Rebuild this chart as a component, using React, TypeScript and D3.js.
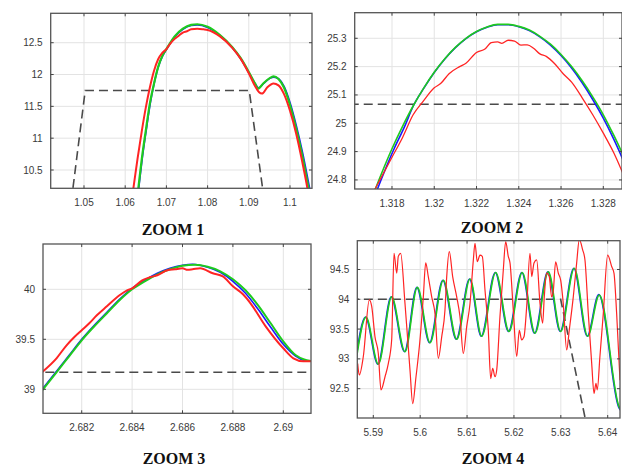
import React from 'react';
import * as d3 from 'd3';

type Pt = [number, number];

// ---- ZOOM 1 ----
const z1XTicks = [1.05, 1.06, 1.07, 1.08, 1.09, 1.1];
const z1YTicks = [10.5, 11, 11.5, 12, 12.5];
const z1Ref: Pt[] = [[1.0469, 10.0], [1.0503, 11.75], [1.0901, 11.75], [1.0938, 10.0]];
const z1Green: Pt[] = [
  [1.0628, 10.0], [1.0632, 10.22], [1.064, 10.66], [1.065, 11.12], [1.066, 11.55], [1.067, 11.86],
  [1.068, 12.12], [1.069, 12.29], [1.07, 12.4], [1.072, 12.6], [1.074, 12.72], [1.076, 12.78],
  [1.0775, 12.79], [1.08, 12.75], [1.083, 12.62], [1.086, 12.43], [1.088, 12.26], [1.09, 12.04],
  [1.0915, 11.86], [1.0923, 11.78], [1.0935, 11.86], [1.095, 11.94], [1.096, 11.97], [1.0972, 11.93],
  [1.0985, 11.8], [1.1, 11.52], [1.1015, 11.15], [1.103, 10.72], [1.1045, 10.22], [1.1055, 9.9],
];
const z1Blue: Pt[] = [
  [1.0629, 10.0], [1.0633, 10.22], [1.0641, 10.66], [1.0651, 11.12], [1.0661, 11.55], [1.067, 11.85],
  [1.068, 12.11], [1.069, 12.28], [1.07, 12.39], [1.072, 12.59], [1.074, 12.71], [1.076, 12.77],
  [1.0775, 12.78], [1.08, 12.74], [1.083, 12.61], [1.086, 12.42], [1.088, 12.25], [1.09, 12.03],
  [1.0915, 11.86], [1.0924, 11.79], [1.0936, 11.86], [1.0951, 11.94], [1.0961, 11.96], [1.0973, 11.93],
  [1.0986, 11.81], [1.1001, 11.54], [1.1016, 11.18], [1.1031, 10.76], [1.1046, 10.27], [1.1057, 9.9],
];
const z1Red: Pt[] = [
  [1.0615, 10.0], [1.062, 10.22], [1.063, 10.68], [1.064, 11.1], [1.065, 11.48], [1.066, 11.8],
  [1.067, 12.06], [1.068, 12.24], [1.069, 12.34], [1.07, 12.4], [1.071, 12.49], [1.072, 12.56],
  [1.073, 12.61], [1.074, 12.66], [1.075, 12.68], [1.076, 12.71], [1.0775, 12.72], [1.079, 12.71],
  [1.08, 12.7], [1.083, 12.6], [1.086, 12.42], [1.088, 12.25], [1.09, 12.02], [1.0915, 11.82],
  [1.0925, 11.72], [1.0932, 11.7], [1.0945, 11.8], [1.096, 11.86], [1.0972, 11.83], [1.0985, 11.7],
  [1.1, 11.43], [1.1015, 11.07], [1.103, 10.62], [1.1042, 10.22], [1.105, 9.9],
];

// ---- ZOOM 2 ----
const z2XTicks = [1.318, 1.32, 1.322, 1.324, 1.326, 1.328];
const z2YTicks = [24.8, 24.9, 25, 25.1, 25.2, 25.3];
const z2Ref: Pt[] = [[1.316, 25.067], [1.33, 25.067]];
const z2Green: Pt[] = [
  [1.317, 24.727], [1.3175, 24.822], [1.318, 24.91], [1.3185, 24.989], [1.319, 25.061], [1.3195, 25.124],
  [1.32, 25.18], [1.3205, 25.228], [1.321, 25.268], [1.3215, 25.3], [1.322, 25.324], [1.3225, 25.34],
  [1.323, 25.349], [1.3235, 25.349], [1.324, 25.342], [1.3245, 25.329], [1.325, 25.307], [1.3255, 25.279],
  [1.326, 25.243], [1.3265, 25.2], [1.327, 25.15], [1.3275, 25.093], [1.328, 25.03], [1.3285, 24.957],
  [1.329, 24.878],
];
const z2Blue: Pt[] = [
  [1.3171, 24.727], [1.3176, 24.822], [1.3181, 24.91], [1.3186, 24.989], [1.319, 25.06], [1.3195, 25.123],
  [1.32, 25.179], [1.3205, 25.227], [1.321, 25.267], [1.3215, 25.299], [1.322, 25.323], [1.3225, 25.339],
  [1.323, 25.348], [1.3235, 25.348], [1.324, 25.341], [1.3245, 25.327], [1.325, 25.305], [1.3255, 25.276],
  [1.326, 25.239], [1.3265, 25.195], [1.327, 25.143], [1.3275, 25.084], [1.328, 25.018], [1.3285, 24.943],
  [1.329, 24.86],
];
const z2Red: Pt[] = [
  [1.317, 24.74], [1.3175, 24.81], [1.318, 24.88], [1.3185, 24.95], [1.319, 25.03], [1.3195, 25.08],
  [1.32, 25.125], [1.3203, 25.14], [1.3207, 25.175], [1.3212, 25.2], [1.3215, 25.212], [1.322, 25.25],
  [1.3224, 25.262], [1.3227, 25.285], [1.323, 25.287], [1.3232, 25.282], [1.3235, 25.293], [1.3238, 25.29],
  [1.3241, 25.276], [1.3244, 25.277], [1.3247, 25.265], [1.325, 25.245], [1.3253, 25.236], [1.3257, 25.21],
  [1.3261, 25.175], [1.3265, 25.145], [1.327, 25.09], [1.3275, 25.03], [1.328, 24.965], [1.3285, 24.895],
  [1.329, 24.81],
];

// ---- ZOOM 3 ----
const z3XTicks = [2.682, 2.684, 2.686, 2.688, 2.69];
const z3YTicks = [39, 39.5, 40];
const z3Ref: Pt[] = [[2.68, 39.17], [2.692, 39.17]];
const z3Green: Pt[] = [
  [2.6804, 38.98], [2.681, 39.17], [2.6815, 39.33], [2.682, 39.49], [2.6825, 39.63], [2.683, 39.76],
  [2.6835, 39.89], [2.684, 40.0], [2.6845, 40.08], [2.685, 40.15], [2.6855, 40.2], [2.686, 40.235],
  [2.6865, 40.245], [2.687, 40.225], [2.6875, 40.18], [2.688, 40.1], [2.6885, 39.99], [2.689, 39.84],
  [2.6895, 39.66], [2.69, 39.48], [2.6905, 39.34], [2.6908, 39.3], [2.6912, 39.28],
];
const z3Blue: Pt[] = [
  [2.6804, 38.99], [2.681, 39.18], [2.6815, 39.34], [2.682, 39.5], [2.6825, 39.64], [2.683, 39.77],
  [2.6835, 39.9], [2.684, 40.01], [2.6845, 40.09], [2.685, 40.16], [2.6855, 40.21], [2.686, 40.24],
  [2.6864, 40.25], [2.687, 40.22], [2.6875, 40.17], [2.688, 40.08], [2.6885, 39.96], [2.689, 39.8],
  [2.6895, 39.62], [2.69, 39.45], [2.6905, 39.33], [2.6908, 39.29], [2.6912, 39.28],
];
const z3Red: Pt[] = [
  [2.6804, 39.166], [2.681, 39.31], [2.6814, 39.44], [2.6817, 39.52], [2.682, 39.59], [2.6823, 39.66],
  [2.6826, 39.74], [2.683, 39.83], [2.6835, 39.94], [2.6838, 39.99], [2.684, 40.01], [2.6844, 40.09],
  [2.6847, 40.12], [2.685, 40.14], [2.6854, 40.19], [2.6857, 40.2], [2.686, 40.21], [2.6862, 40.195],
  [2.6864, 40.2], [2.6867, 40.21], [2.6872, 40.16], [2.6876, 40.13], [2.688, 40.03], [2.6884, 39.95],
  [2.6887, 39.86], [2.6893, 39.63], [2.69, 39.41], [2.6904, 39.31], [2.6908, 39.28], [2.6912, 39.28],
];

// ---- ZOOM 4 ----
const z4XTicks = [5.59, 5.6, 5.61, 5.62, 5.63, 5.64];
const z4YTicks = [92.5, 93, 93.5, 94, 94.5];
const z4Ref: Pt[] = [[5.585, 94.0], [5.62997, 94.0], [5.6352, 92.0]];
const z4Green: Pt[] = [
  [5.5862, 92.9], [5.58844, 93.7], [5.59107, 92.91], [5.59392, 94.04], [5.59676, 93.12], [5.59939, 94.2],
  [5.6021, 93.27], [5.60493, 94.32], [5.6078, 93.33], [5.61063, 94.34], [5.61312, 93.38], [5.61611, 94.45],
  [5.61895, 93.46], [5.62178, 94.45], [5.6245, 93.43], [5.62733, 94.46], [5.62997, 93.46], [5.63287, 94.52],
  [5.63573, 93.38], [5.6382, 94.07], [5.6424, 92.2], [5.6432, 92.1],
];
const z4Blue: Pt[] = [
  [5.5861, 92.9], [5.58834, 93.7], [5.59097, 92.91], [5.59382, 94.04], [5.59666, 93.12], [5.59929, 94.2],
  [5.602, 93.27], [5.60483, 94.32], [5.6077, 93.33], [5.61053, 94.34], [5.61302, 93.38], [5.61601, 94.45],
  [5.61885, 93.46], [5.62168, 94.45], [5.6244, 93.43], [5.62723, 94.46], [5.62987, 93.46], [5.63277, 94.52],
  [5.63563, 93.38], [5.6381, 94.08], [5.6423, 92.2], [5.6431, 92.1],
];
const z4Red: Pt[] = [
  [5.58667, 92.92], [5.58701, 92.73], [5.58787, 93.04], [5.58915, 93.99], [5.58966, 93.88], [5.59036, 93.37],
  [5.59107, 93.09], [5.59164, 92.48], [5.5925, 92.7], [5.5932, 92.92], [5.59392, 93.32], [5.59442, 94.77],
  [5.595, 94.44], [5.59533, 94.72], [5.59584, 94.77], [5.59676, 93.93], [5.59783, 92.81], [5.5984, 92.25],
  [5.59911, 92.7], [5.59996, 93.32], [5.60067, 94.04], [5.60118, 94.61], [5.60173, 94.38], [5.60246, 94.04],
  [5.60316, 93.76], [5.60387, 93.01], [5.60459, 93.37], [5.60529, 93.82], [5.60566, 94.38], [5.60621, 94.8],
  [5.60693, 94.38], [5.60779, 94.04], [5.60849, 93.71], [5.6092, 93.09], [5.60992, 93.54], [5.61063, 93.93],
  [5.61134, 94.66], [5.61169, 94.94], [5.61218, 94.63], [5.61276, 94.74], [5.61325, 94.72], [5.61382, 94.16],
  [5.61453, 93.48], [5.61504, 92.67], [5.61547, 92.84], [5.61596, 92.7], [5.61632, 92.81], [5.61702, 93.71],
  [5.61773, 94.49], [5.61824, 94.97], [5.61879, 94.72], [5.61916, 94.61], [5.61986, 93.82], [5.62059, 93.04],
  [5.62114, 93.48], [5.62165, 93.32], [5.62214, 93.37], [5.62272, 93.88], [5.62342, 94.77], [5.62379, 94.38],
  [5.62428, 94.61], [5.62485, 94.66], [5.62556, 93.93], [5.62613, 93.6], [5.62647, 94.04], [5.62698, 94.44],
  [5.62753, 94.38], [5.62804, 94.04], [5.62838, 94.13], [5.6289, 94.63], [5.62946, 94.44], [5.62997, 94.32],
  [5.63052, 93.93], [5.63125, 93.15], [5.6318, 93.48], [5.63266, 94.04], [5.63338, 94.61], [5.63394, 95.0],
  [5.63466, 94.83], [5.63515, 94.66], [5.63586, 93.76], [5.63659, 92.92], [5.63708, 92.42], [5.6375, 92.59],
  [5.63778, 92.48], [5.63834, 93.04], [5.63906, 93.76], [5.63999, 94.74], [5.64085, 94.55], [5.64134, 94.44],
  [5.64191, 93.76], [5.64262, 92.64],
];

type Box = { left: number; top: number; right: number; bottom: number };

interface PanelProps {
  id: string;
  box: Box;
  xDomain: [number, number];
  yDomain: [number, number];
  xTicks: number[];
  yTicks: number[];
  refLine: Pt[];
  blue: Pt[];
  green: Pt[];
  red: Pt[];
  title: string;
  titleX: number;
  titleY: number;
  redWidth: number;
  greenWidth: number;
}

const fmt = (v: number) => String(+v.toFixed(4));

function Panel(p: PanelProps) {
  const { box } = p;
  const x = d3.scaleLinear().domain(p.xDomain).range([box.left, box.right]);
  const y = d3.scaleLinear().domain(p.yDomain).range([box.bottom, box.top]);
  const smooth = d3.line<Pt>().x(d => x(d[0])).y(d => y(d[1])).curve(d3.curveMonotoneX);
  const straight = d3.line<Pt>().x(d => x(d[0])).y(d => y(d[1]));
  const tl = 3;

  return (
    <g>
      <defs>
        <clipPath id={p.id}>
          <rect x={box.left} y={box.top} width={box.right - box.left} height={box.bottom - box.top} />
        </clipPath>
      </defs>
      <rect x={box.left} y={box.top} width={box.right - box.left} height={box.bottom - box.top} fill="#fff" />
      {/* grid */}
      {p.xTicks.map(t => (
        <line key={'gx' + t} x1={x(t)} x2={x(t)} y1={box.top} y2={box.bottom} stroke="#e3e3e3" strokeWidth={1} />
      ))}
      {p.yTicks.map(t => (
        <line key={'gy' + t} x1={box.left} x2={box.right} y1={y(t)} y2={y(t)} stroke="#e3e3e3" strokeWidth={1} />
      ))}
      <g clipPath={`url(#${p.id})`} fill="none">
        <path d={straight(p.refLine) || ''} stroke="#4a4a4a" strokeWidth={1.6} strokeDasharray="9,5" />
        <path d={smooth(p.blue) || ''} stroke="#1a1aff" strokeWidth={1.6} />
        <path d={smooth(p.green) || ''} stroke="#1ecb1e" strokeWidth={p.greenWidth} />
        <path d={smooth(p.red) || ''} stroke="#ff2424" strokeWidth={p.redWidth} />
      </g>
      {/* frame */}
      <rect x={box.left} y={box.top} width={box.right - box.left} height={box.bottom - box.top}
        fill="none" stroke="#555" strokeWidth={1.3} />
      {p.xTicks.map(t => (
        <g key={'tx' + t} stroke="#444">
          <line x1={x(t)} x2={x(t)} y1={box.bottom} y2={box.bottom - tl} />
          <line x1={x(t)} x2={x(t)} y1={box.top} y2={box.top + tl} />
        </g>
      ))}
      {p.yTicks.map(t => (
        <g key={'ty' + t} stroke="#444">
          <line x1={box.left} x2={box.left + tl} y1={y(t)} y2={y(t)} />
          <line x1={box.right} x2={box.right - tl} y1={y(t)} y2={y(t)} />
        </g>
      ))}
      <g fontFamily="'Liberation Sans', Arial, sans-serif" fontSize={10} fill="#3a3a3a">
        {p.xTicks.map(t => (
          <text key={'lx' + t} x={x(t)} y={box.bottom + 18} textAnchor="middle">{fmt(t)}</text>
        ))}
        {p.yTicks.map(t => (
          <text key={'ly' + t} x={box.left - 8} y={y(t)} dy="0.35em" textAnchor="end">{fmt(t)}</text>
        ))}
      </g>
      <text x={p.titleX} y={p.titleY} textAnchor="middle" fontFamily="'Liberation Serif', 'Times New Roman', serif"
        fontWeight="bold" fontSize={16} fill="#111">{p.title}</text>
    </g>
  );
}

export default function App() {
  return (
    <svg width={622} height={468} style={{ position: 'absolute', left: 0, top: 0, background: '#fff' }}>
      <rect width={622} height={468} fill="#fff" />
      <Panel id="c1" box={{ left: 50.7, top: 13.3, right: 312, bottom: 188.3 }}
        xDomain={[1.04192, 1.10534]} yDomain={[10.2125, 12.962]}
        xTicks={z1XTicks} yTicks={z1YTicks} refLine={z1Ref} blue={z1Blue} green={z1Green} red={z1Red}
        title="ZOOM 1" titleX={173} titleY={235} redWidth={2} greenWidth={2.2} />
      <Panel id="c2" box={{ left: 354.7, top: 12.7, right: 622, bottom: 189 }}
        xDomain={[1.316235, 1.328885]} yDomain={[24.768, 25.3903]}
        xTicks={z2XTicks} yTicks={z2YTicks} refLine={z2Ref} blue={z2Blue} green={z2Green} red={z2Red}
        title="ZOOM 2" titleX={492} titleY={233} redWidth={1.3} greenWidth={1.6} />
      <Panel id="c3" box={{ left: 43, top: 244, right: 311, bottom: 413.3 }}
        xDomain={[2.680464, 2.691099]} yDomain={[38.76, 40.453]}
        xTicks={z3XTicks} yTicks={z3YTicks} refLine={z3Ref} blue={z3Blue} green={z3Green} red={z3Red}
        title="ZOOM 3" titleX={174} titleY={464} redWidth={2} greenWidth={2} />
      <Panel id="c4" box={{ left: 357.3, top: 240.7, right: 620, bottom: 418 }}
        xDomain={[5.586587, 5.642624]} yDomain={[92.008, 94.983]}
        xTicks={z4XTicks} yTicks={z4YTicks} refLine={z4Ref} blue={z4Blue} green={z4Green} red={z4Red}
        title="ZOOM 4" titleX={493} titleY={464} redWidth={1.2} greenWidth={1.6} />
    </svg>
  );
}
